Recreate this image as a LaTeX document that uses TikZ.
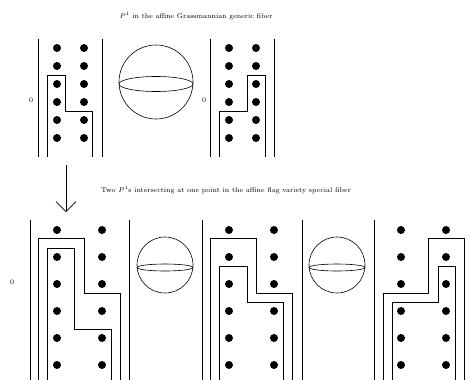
\documentclass[tikz,border=0pt]{standalone}
\usepackage{tikz}
\usetikzlibrary{arrows.meta}

\begin{document}
\begin{tikzpicture}[
  x=1pt, y=-1pt,
  every node/.style={font=\fontsize{7}{8}\selectfont, inner sep=0pt},
  wall/.style={draw=black, line width=0.6pt},
  cell/.style={draw=black, line width=0.7pt},
  bead/.style={fill=black},
  sphere/.style={draw=black, line width=0.6pt},
  arr/.style={-{Straight Barb[length=10pt,width=20pt]}, line width=0.6pt}
]
\useasboundingbox (0,0) rectangle (470,380);

% generic fiber
\node (gentitle) at (196,16) {$P^1$ in the affine Grassmannian generic fiber};
\node (genzeroA) at (31,100) {0};
\node (genzeroB) at (204,100) {0};
\foreach \dx in {0,172} {
  \draw[wall] (38+\dx,39) -- (38+\dx,157);
  \draw[wall] (102+\dx,39) -- (102+\dx,157);
  \foreach \i in {0,...,5} {
    \fill[bead] (57+\dx,48+18*\i) circle[radius=4];
    \fill[bead] (84+\dx,48+18*\i) circle[radius=4];
  }
}
\draw[cell] (47,157) -- (47,75) -- (65,75) -- (65,111) -- (92,111) -- (92,157);
\draw[cell] (219,157) -- (219,111) -- (247,111) -- (247,75) -- (265,75) -- (265,157);
\draw[sphere] (156,82) circle[radius=37];
\draw[sphere] (156,84) ellipse[x radius=37, y radius=7.5];

% degeneration
\coordinate (down0) at (66,165);
\coordinate (down1) at (66,212);
\draw[arr] (down0) -- (down1);

% special fiber
\node (spectitle) at (226,190) {Two $P^1$s intersecting at one point in the affine flag variety special fiber};
\node (speczero) at (12,282) {0};
\foreach \xw in {30,129,202,302,374}
  \draw[wall] (\xw,220) -- (\xw,380);
\foreach \dx in {0,172,344} {
  \foreach \i in {0,...,5} {
    \fill[bead] (57+\dx,230+27*\i) circle[radius=4];
    \fill[bead] (102+\dx,230+27*\i) circle[radius=4];
  }
}
\draw[cell] (38,380) -- (38,238) -- (84,238) -- (84,293) -- (120,293) -- (120,380);
\draw[cell] (47,380) -- (47,248) -- (74,248) -- (74,329) -- (111,329) -- (111,380);
\draw[cell] (210,380) -- (210,238) -- (256,238) -- (256,293) -- (292,293) -- (292,380);
\draw[cell] (219,380) -- (219,266) -- (247,266) -- (247,302) -- (283,302) -- (283,380);
\draw[cell] (383,380) -- (383,293) -- (428,293) -- (428,238) -- (464,238) -- (464,380);
\draw[cell] (392,380) -- (392,302) -- (438,302) -- (438,266) -- (455,266) -- (455,380);
\foreach \cx in {165,337} {
  \draw[sphere] (\cx,265) circle[radius=28];
  \draw[sphere] (\cx,267.5) ellipse[x radius=28, y radius=3.5];
}
\end{tikzpicture}
\end{document}
